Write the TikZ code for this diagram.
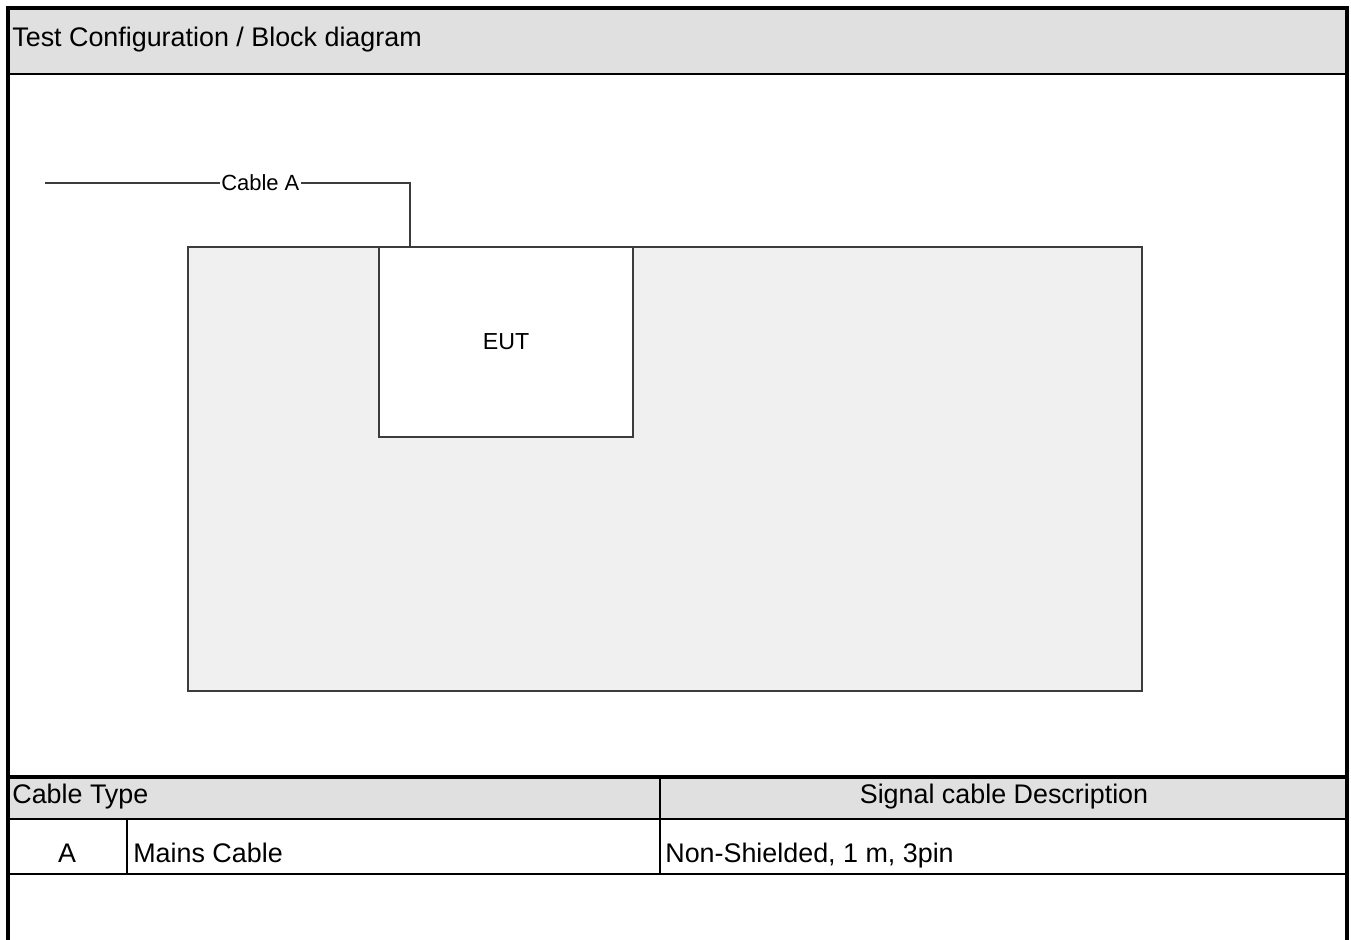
\documentclass[tikz,border=0pt]{standalone}
\usepackage{fontspec}
\setmainfont{Liberation Sans}
\definecolor{headgray}{HTML}{E0E0E0}
\definecolor{benchgray}{HTML}{F0F0F0}
\definecolor{wiregray}{HTML}{3C3C3C}
\tikzset{
    frame/.style={line width=2.2pt},
    rule/.style={line width=1pt},
    wire/.style={draw=wiregray, line width=1pt},
    tabtext/.style={font=\fontsize{15.3}{18}\selectfont, inner sep=0pt},
    drawtext/.style={font=\fontsize{12.5}{15}\selectfont},
}

\begin{document}
\begin{tikzpicture}[x=0.02cm, y=-0.02cm]
    \useasboundingbox (0,0) rectangle (1351,939);

    % grey bands
    \fill[headgray] (8,8) rectangle (1347,74);
    \fill[headgray] (8,777) rectangle (1347,819);
    \node[tabtext, anchor=base west] (title) at (12,47) {Test Configuration / Block diagram};

    % test set-up
    \node[wire, fill=benchgray, minimum width=19.08cm, minimum height=8.88cm] (bench) at (665,469) {};
    \node[wire, fill=white, minimum width=5.08cm, minimum height=3.8cm, font=\fontsize{13.2}{16}\selectfont] (eut) at (506,342) {EUT};
    \coordinate (plug) at (45,183);
    \coordinate (bend) at (410,183);
    \draw[wire] (plug) -- node[pos=0.59, fill=white, inner sep=1pt, drawtext] (cablea) {Cable A} (bend) -- (bend |- eut.north);

    % table
    \draw[rule] (8,74) -- (1347,74);
    \draw[frame] (8,777) -- (1347,777);
    \draw[rule] (8,819) -- (1347,819);
    \draw[rule] (8,874) -- (1347,874);
    \draw[rule] (660,777) -- (660,874);
    \draw[rule] (127,819) -- (127,874);

    \node[tabtext, anchor=base west] (typehead) at (12,803) {Cable Type};
    \node[tabtext, anchor=base] (deschead) at (1004,803) {Signal cable Description};
    \node[tabtext, anchor=base] (typea) at (67,862) {A};
    \node[tabtext, anchor=base west] (namea) at (133,862) {Mains Cable};
    \node[tabtext, anchor=base west] (desca) at (665,862) {Non-Shielded, 1 m, 3pin};

    % outer frame
    \draw[frame] (8,945) -- (8,8) -- (1347,8) -- (1347,945);
\end{tikzpicture}
\end{document}
